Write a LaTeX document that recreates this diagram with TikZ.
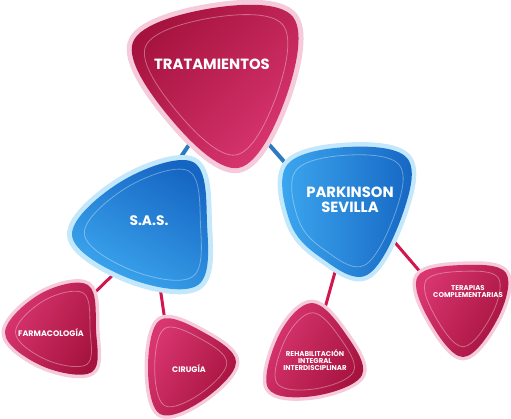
\documentclass[tikz,border=0pt]{standalone}
\usepackage{fontspec}
\setmainfont{Poppins}
\usetikzlibrary{calc}
\definecolor{crD}{HTML}{A5123D}
\definecolor{crL}{HTML}{D93670}
\definecolor{crH}{HTML}{F5CADA}
\definecolor{crLine}{HTML}{D2164F}
\definecolor{blD}{HTML}{1565C2}
\definecolor{blL}{HTML}{3DA8F0}
\definecolor{blH}{HTML}{C4E8FB}
\definecolor{blLine}{HTML}{2A7BC0}
\tikzset{
  lbl/.style={text=white, align=center, inner sep=0pt, font=\bfseries\fontsize{#1}{#1}\selectfont},
  bconn/.style={draw=blLine, line width=4pt},
  cconn/.style={draw=crLine, line width=3pt},
  hl/.style={draw=white, line width=0.8pt, opacity=0.35},
}
\newcommand\blob[6]{%
  \path[draw=#2, fill=#2, line width=#3, line join=round] plot[smooth cycle, tension=0.62] coordinates {#1};
  \path[#4] plot[smooth cycle, tension=0.62] coordinates {#1};
  \path[hl, scale around={#6:#5}] plot[smooth cycle, tension=0.62] coordinates {#1};
}
\begin{document}
\begin{tikzpicture}[x=1pt,y=-1pt]
\useasboundingbox (0,0) rectangle (511,418);
% connector ends
\coordinate (tratS) at (195,136);
\coordinate (sasN)  at (170,173);
\coordinate (tratP) at (258,132);
\coordinate (parkN) at (295,174);
\coordinate (sasF)  at (123,265);
\coordinate (farmN) at (82,305);
\coordinate (sasC)  at (159,280);
\coordinate (cirN)  at (166,328);
\coordinate (parkR) at (337,265);
\coordinate (rehN)  at (323,315);
\coordinate (parkT) at (386,232);
\coordinate (terN)  at (428,281);
\draw[bconn] (tratS) -- (sasN);
\draw[bconn] (tratP) -- (parkN);
\draw[cconn] (sasF) -- (farmN);
\draw[cconn] (sasC) -- (cirN);
\draw[cconn] (parkR) -- (rehN);
\draw[cconn] (parkT) -- (terN);
% shapes
\blob{(133,42) (213,8) (293,17) (285,100) (238,168) (170,118)}{crH}{10pt}{top color=crD, bottom color=crL, shading angle=45}{(222,75)}{0.86}
\blob{(193,162) (207,223) (198,285) (128,278) (72,235) (122,181)}{blH}{10pt}{top color=blD, bottom color=blL, shading angle=-30}{(160,225)}{0.86}
\blob{(287,165) (347,147) (407,158) (403,213) (367,275) (320,257) (290,222)}{blH}{9pt}{left color=blL, right color=blD}{(350,205)}{0.86}
\blob{(88,285) (96,330) (92,372) (42,366) (5,333) (40,294)}{crH}{7pt}{top color=crL, bottom color=crD, shading angle=60}{(63,330)}{0.82}
\blob{(160,320) (203,332) (236,362) (203,400) (160,414) (148,368)}{crH}{7pt}{top color=crL, bottom color=crD, shading angle=60}{(185,367)}{0.82}
\blob{(312,303) (345,333) (362,375) (314,396) (268,388) (280,333)}{crH}{7pt}{top color=crL, bottom color=crD, shading angle=60}{(315,357)}{0.82}
\blob{(418,276) (463,265) (506,273) (498,318) (463,357) (428,318)}{crH}{7pt}{top color=crL, bottom color=crD, shading angle=60}{(463,300)}{0.82}
% labels
\node[lbl=14.8] (trat) at (212,64) {TRATAMIENTOS};
\node[lbl=13.8] (sas) at (149,221) {S.A.S.};
\node[lbl=14.8] (park) at (350,200) {\fontsize{14.8}{15}\selectfont PARKINSON\\SEVILLA};
\node[lbl=8] (farm) at (51,333) {FARMACOLOGÍA};
\node[lbl=8] (cir) at (189,369) {CIRUGÍA};
\node[lbl=7] (reh) at (315,360.5) {\fontsize{7}{6.6}\selectfont REHABILITACIÓN\\INTEGRAL\\INTERDISCIPLINAR};
\node[lbl=7] (ter) at (468,292) {\fontsize{7}{6.7}\selectfont TERAPIAS\\COMPLEMENTARIAS};
\end{tikzpicture}
\end{document}
